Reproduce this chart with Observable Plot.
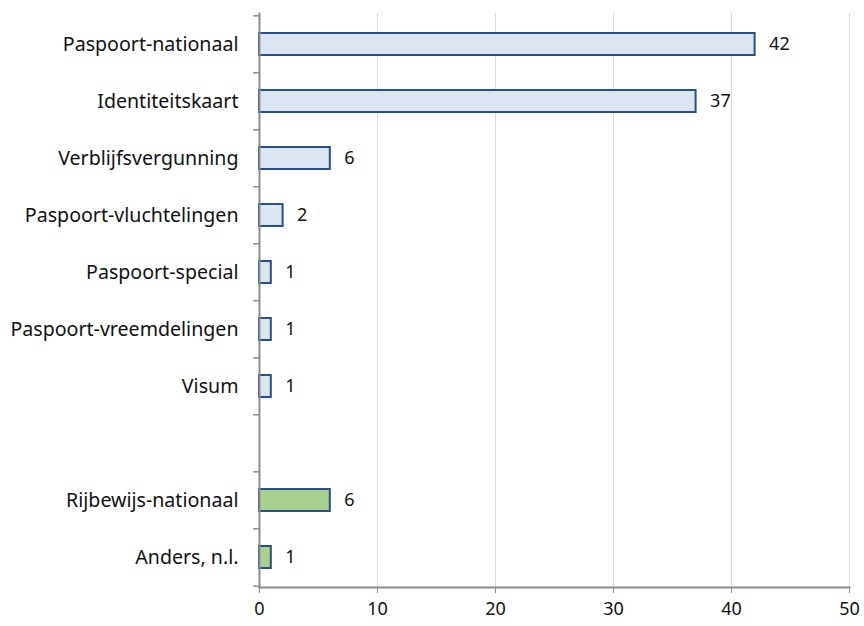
<!DOCTYPE html>
<html>
<head>
<meta charset="utf-8">
<script src="https://cdn.jsdelivr.net/npm/d3@7"></script>
<script src="https://cdn.jsdelivr.net/npm/@observablehq/plot@0.6"></script>
<style>
  html, body { margin: 0; padding: 0; background: #fff; }
  #chart { width: 864px; height: 626px; }
</style>
</head>
<body>
<div id="chart"></div>
<script>
const categories = ["Paspoort-nationaal", "Identiteitskaart", "Verblijfsvergunning", "Paspoort-vluchtelingen", "Paspoort-special", "Paspoort-vreemdelingen", "Visum", " ", "Rijbewijs-nationaal", "Anders, n.l."];
const values = [42, 37, 6, 2, 1, 1, 1, null, 6, 1];
const groups = ["id", "id", "id", "id", "id", "id", "id", null, "rijbewijs", "rijbewijs"];
const xTicks = [0, 10, 20, 30, 40, 50];

const data = categories.map((c, i) => ({cat: c, value: values[i], group: groups[i]})).filter(d => d.value != null);

const W = 864, H = 626, mt = 13, mb = 39, ml = 259, mr = 15;
const step = (H - mt - mb) / categories.length;
const pad = 0.62;

const plot = Plot.plot({
  width: W, height: H,
  marginTop: mt, marginBottom: mb, marginLeft: ml, marginRight: mr,
  style: {fontFamily: "'Noto Sans', sans-serif", fontSize: "16px", color: "#111", background: "#fff"},
  x: {domain: [0, 50], ticks: xTicks, label: null},
  y: {domain: categories, paddingInner: pad, paddingOuter: pad / 2, label: null},
  color: {domain: ["id", "rijbewijs"], range: ["#dce6f2", "#a9d18e"]},
  marks: [
    Plot.gridX(xTicks, {stroke: "#d9d9d9", strokeOpacity: 1, strokeWidth: 1}),
    Plot.axisX({ticks: xTicks, tickSize: 6, tickPadding: 9, stroke: "#8c8c8c", fontSize: 18, label: null}),
    Plot.axisY({tickSize: 0, tickPadding: 21, fontSize: 19.6, label: null}),
    Plot.ruleY(categories, {y: d => d, x1: -0.5, x2: 0, dy: -step / 2, stroke: "#8c8c8c", strokeWidth: 1.5}),
    Plot.ruleY([categories[categories.length - 1]], {y: d => d, x1: -0.5, x2: 0, dy: step / 2, stroke: "#8c8c8c", strokeWidth: 1.5}),
    Plot.barX(data, {y: "cat", x: "value", fill: "group", stroke: "#254f8d", strokeWidth: 2}),
    Plot.frame({anchor: "bottom", stroke: "#8c8c8c", strokeWidth: 2}),
    Plot.frame({anchor: "left", stroke: "#8c8c8c", strokeWidth: 2}),
    Plot.text(data, {y: "cat", x: "value", text: d => String(d.value), dx: 14, textAnchor: "start", fontSize: 18, fill: "#111"})
  ]
});
document.getElementById("chart").appendChild(plot);
</script>
</body>
</html>
